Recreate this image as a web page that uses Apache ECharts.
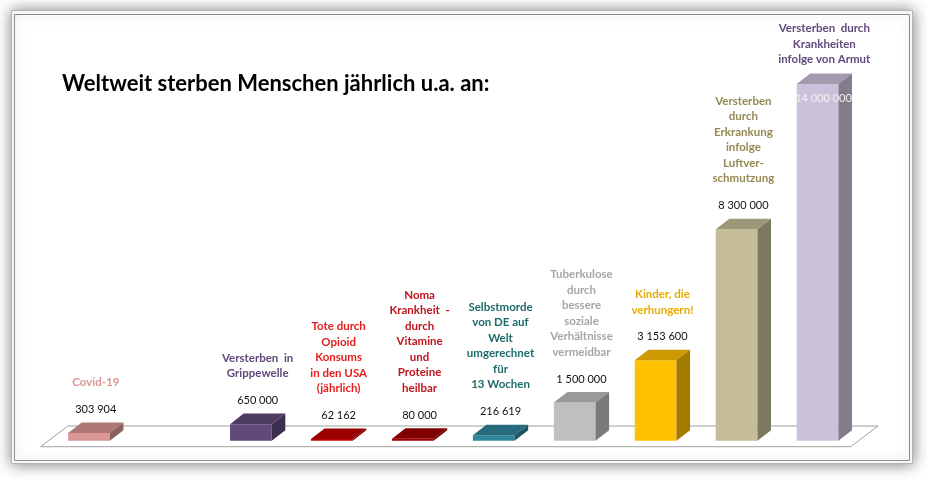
<!DOCTYPE html>
<html>
<head>
<meta charset="utf-8">
<script src="https://cdn.jsdelivr.net/npm/echarts@6/dist/echarts.min.js"></script>
<style>
html,body{margin:0;padding:0;background:#fff;}
#chart{width:927px;height:481px;}
</style>
</head>
<body>
<div id="chart"></div>
<script>
// ---- data ----
const titleText = 'Weltweit sterben Menschen jährlich u.a. an:';
const categories = [
  'Covid-19',
  '',
  'Versterben  in\nGrippewelle',
  'Tote durch\nOpioid\nKonsums\nin den USA\n(jährlich)',
  'Noma\nKrankheit  -\ndurch\nVitamine\nund\nProteine\nheilbar',
  'Selbstmorde\nvon DE auf\nWelt\numgerechnet\nfür\n13 Wochen',
  'Tuberkulose\ndurch\nbessere\nsoziale\nVerhältnisse\nvermeidbar',
  'Kinder, die\nverhungern!',
  'Versterben\ndurch\nErkrankung\ninfolge\nLuftver-\nschmutzung',
  'Versterben  durch\nKrankheiten\ninfolge von Armut'
];
const values = [303904, null, 650000, 62162, 80000, 216619, 1500000, 3153600, 8300000, 14000000];

// ---- styles ----
const barColors = ['#d99694', null, '#604a7b', '#c00000', '#a00000', '#31859c', '#bfbfbf', '#ffc000', '#c4bd97', '#ccc1da'];
const labelColors = ['#d99694', null, '#604a7b', '#e41c1c', '#c0141c', '#1e6b6b', '#a6a6a6', '#e8ac00', '#948a54', '#5f4a7b'];

function shade(hex, f) {
  const n = parseInt(hex.slice(1), 16);
  const r = Math.round(((n >> 16) & 255) * f), g = Math.round(((n >> 8) & 255) * f), b = Math.round((n & 255) * f);
  return 'rgb(' + r + ',' + g + ',' + b + ')';
}
function fmt(v) {
  return String(v).replace(/\B(?=(\d{3})+(?!\d))/g, ' ');
}

const yMax = 14000000;
const barData = values.map((v, i) => [i, v]).filter(d => d[1] != null);

const chart = echarts.init(document.getElementById('chart'), null, {renderer: 'canvas'});

const option = {
  animation: false,
  backgroundColor: '#ffffff',
  title: {
    text: titleText,
    left: 57,
    top: 68,
    textStyle: {fontFamily: 'Lato', fontWeight: 'bold', fontSize: 22, color: '#000'}
  },
  graphic: [
    {
      type: 'rect', z: -10,
      shape: {x: 11.5, y: 10.5, width: 901, height: 453},
      style: {fill: '#fff', stroke: '#b4b4b4', lineWidth: 1, shadowBlur: 14, shadowColor: 'rgba(0,0,0,0.5)'}
    },
    {
      type: 'rect', z: -9,
      shape: {x: 14.5, y: 14.5, width: 895, height: 446},
      style: {fill: 'none', stroke: '#8c8c8c', lineWidth: 1}
    }
  ],
  grid: {left: 48.5, right: 69, top: 84, bottom: 40.3},
  xAxis: {type: 'category', data: categories, show: false, boundaryGap: true},
  yAxis: {type: 'value', min: 0, max: yMax, show: false, splitLine: {show: false}},
  series: [
    {
      type: 'custom',
      z: 1,
      data: [[0, 0]],
      renderItem: function (params, api) {
        const bw = api.size([1, 0])[0];
        const c0 = api.coord([0, 0]);
        const cN = api.coord([categories.length - 1, 0]);
        const fy = c0[1] + 6, by = c0[1] - 14.7;
        const fl = c0[0] - 0.597 * bw, fr = cN[0] + 0.41 * bw;
        const ddx = 0.337 * bw;
        return {
          type: 'polygon',
          shape: {points: [[fl, fy], [fr, fy], [fr + ddx, by], [fl + ddx, by]]},
          style: {fill: '#fff', stroke: '#a0a0a0', lineWidth: 1}
        };
      }
    },
    {
      type: 'custom',
      z: 3,
      data: barData,
      renderItem: function (params, api) {
        const i = api.value(0), v = api.value(1);
        const base = api.coord([i, 0]);
        const top = api.coord([i, v]);
        const topLimit = api.coord([0, yMax])[1];
        const bw = api.size([1, 0])[0];
        const w = bw * 0.515;
        const dx = bw * 0.168, dy = -bw * 0.13;
        const x0 = base[0] - w / 2, x1 = base[0] + w / 2;
        const yb = base[1], yt = top[1];
        const col = barColors[i];
        const children = [
          {type: 'rect', shape: {x: x0, y: yt, width: w, height: yb - yt}, style: {fill: col}},
          {type: 'polygon', shape: {points: [[x0, yt], [x1, yt], [x1 + dx, yt + dy], [x0 + dx, yt + dy]]}, style: {fill: shade(col, 0.8)}},
          {type: 'polygon', shape: {points: [[x1, yt], [x1 + dx, yt + dy], [x1 + dx, yb + dy], [x1, yb]]}, style: {fill: shade(col, 0.64)}}
        ];
        const backTop = yt + dy;
        let valY = backTop - 13;
        let catBottom;
        const cx = base[0] + dx / 2;
        if (valY < topLimit) {
          children.push({type: 'text', style: {text: fmt(v), x: base[0] + 6, y: yt + 14, textAlign: 'center', textVerticalAlign: 'middle', fill: '#f2f2f2', font: '11px Lato'}});
          catBottom = backTop - 14 + 7.75;
        } else {
          children.push({type: 'text', style: {text: fmt(v), x: cx, y: valY, textAlign: 'center', textVerticalAlign: 'middle', fill: '#111', font: '11px Lato'}});
          catBottom = valY - 27 + 7.75;
        }
        children.push({
          type: 'text',
          style: {text: categories[i], x: cx, y: catBottom, textAlign: 'center', textVerticalAlign: 'bottom', fill: labelColors[i], font: 'bold 11.5px Lato', lineHeight: 15.5}
        });
        return {type: 'group', children: children};
      }
    }
  ]
};
chart.setOption(option);
</script>
</body>
</html>
